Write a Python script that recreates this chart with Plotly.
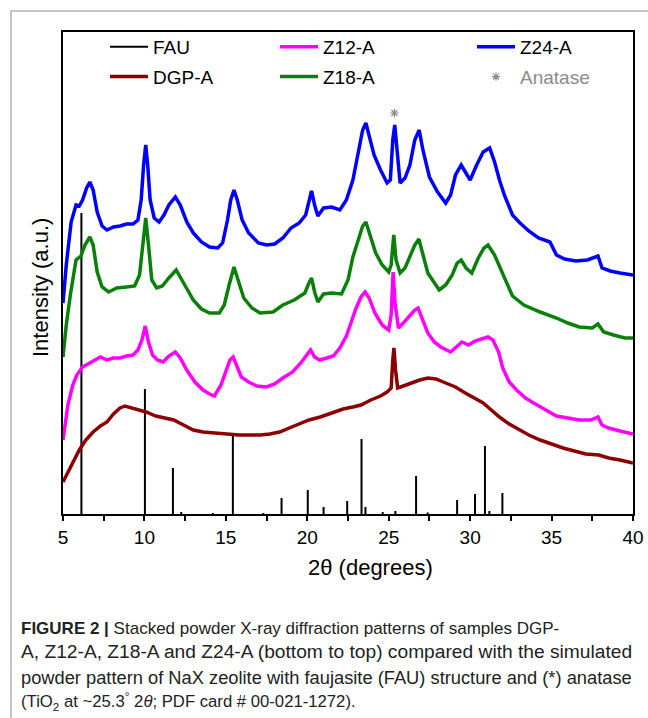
import plotly.graph_objects as go

# ---------------- data ----------------
two_theta_z24 = [5.0, 5.2, 5.5, 5.8, 6.0, 6.2, 6.45, 6.65, 6.85, 7.1, 7.4, 7.7, 8.1, 8.5, 8.9, 9.3, 9.6, 9.8, 9.95, 10.08,
                 10.2, 10.35, 10.6, 10.9, 11.2, 11.5, 11.9, 12.2, 12.6, 13.0, 13.5, 14.0, 14.5, 14.8, 15.1, 15.3, 15.5, 15.7,
                 16.0, 16.4, 17.0, 17.5, 18.0, 18.5, 19.0, 19.5, 19.9, 20.1, 20.26, 20.45, 20.65, 21.0, 21.5, 22.0, 22.4,
                 22.8, 23.1, 23.4, 23.6, 23.8, 24.1, 24.5, 24.9, 25.1, 25.25, 25.37, 25.5, 25.7, 26.0, 26.3, 26.6, 26.87,
                 27.1, 27.5, 28.0, 28.5, 28.8, 29.1, 29.45, 29.7, 30.0, 30.4, 30.8, 31.2, 31.5, 31.8, 32.1, 32.6, 33.0,
                 33.6, 34.2, 34.9, 35.3, 35.8, 36.5, 37.2, 37.85, 38.1, 38.6, 39.2, 40.0]
z24 = [211, 249, 292, 309, 308, 314, 326, 332, 324, 302, 288, 284, 287, 288, 290, 290, 294, 314, 349, 369,
       349, 314, 296, 292, 299, 309, 317, 309, 292, 281, 272, 267, 266, 271, 294, 314, 324, 314,
       294, 281, 271, 269, 270, 276, 286, 291, 299, 314, 323, 309, 298, 306, 307, 304, 314,
       334, 359, 384, 391, 379, 359, 344, 331, 334, 374, 389, 364, 331, 336, 349, 374, 384,
       364, 337, 322, 311, 319, 339, 349, 342, 334, 349, 362, 366, 352, 334, 319, 299, 292,
       283, 276, 272, 259, 255, 253, 254, 258, 246, 243, 241, 239]

two_theta_z18 = [5.0, 5.2, 5.45, 5.8, 6.1, 6.35, 6.65, 6.85, 7.1, 7.4, 7.8, 8.3, 8.9, 9.4, 9.7, 9.9, 10.08, 10.25, 10.45,
                 10.75, 11.1, 11.5, 11.95, 12.3, 12.7, 13.0, 13.5, 14.0, 14.6, 14.9, 15.2, 15.5, 15.75, 16.1, 16.6, 17.1,
                 17.9, 18.5, 19.2, 19.85, 20.1, 20.26, 20.45, 20.65, 21.0, 21.5, 22.1, 22.5, 22.8, 23.1, 23.4, 23.6, 23.8,
                 24.2, 24.6, 25.0, 25.15, 25.31, 25.45, 25.7, 26.0, 26.3, 26.6, 26.85, 27.1, 27.4, 28.1, 28.5, 28.9, 29.2,
                 29.45, 29.75, 30.1, 30.5, 30.85, 31.1, 31.5, 32.0, 32.6, 33.3, 34.3, 35.3, 36.0, 36.7, 37.5, 37.85, 38.2,
                 38.8, 39.5, 40.0]
z18 = [157, 189, 219, 254, 258, 269, 277, 269, 242, 227, 222, 226, 227, 228, 239, 269, 296, 269, 234,
       226, 228, 236, 244, 234, 222, 214, 205, 201, 201, 209, 229, 247, 234, 216, 206, 201,
       202, 209, 214, 221, 231, 236, 222, 212, 220, 221, 220, 234, 257, 274, 288, 292, 282,
       261, 249, 242, 249, 279, 254, 241, 246, 257, 269, 275, 259, 241, 224, 229, 239, 251,
       254, 246, 241, 256, 266, 269, 259, 241, 218, 209, 202, 196, 191, 187, 186, 190, 182,
       179, 176, 176]

two_theta_z12 = [5.0, 5.3, 5.6, 5.85, 6.2, 6.6, 7.0, 7.3, 7.7, 8.1, 8.5, 8.9, 9.3, 9.6, 9.85, 10.05, 10.25, 10.5, 10.8,
                 11.15, 11.5, 11.9, 12.2, 12.6, 13.1, 13.6, 14.0, 14.3, 14.7, 15.0, 15.25, 15.45, 15.7, 15.95, 16.4, 16.9,
                 17.5, 18.0, 18.5, 19.1, 19.6, 19.95, 20.2, 20.45, 20.75, 21.2, 21.6, 22.0, 22.4, 22.7, 23.0, 23.3, 23.55,
                 23.8, 24.15, 24.6, 25.0, 25.15, 25.27, 25.4, 25.6, 25.95, 26.3, 26.6, 26.8, 27.05, 27.4, 27.8, 28.2, 28.8,
                 29.2, 29.5, 29.9, 30.3, 30.7, 31.1, 31.4, 31.75, 32.0, 32.4, 32.85, 33.4, 33.9, 34.6, 35.3, 36.0, 36.7,
                 37.4, 37.85, 38.1, 38.5, 39.2, 40.0]
z12 = [74, 109, 129, 139, 147, 151, 154, 157, 154, 156, 156, 158, 159, 164, 174, 188, 172, 159, 154,
       152, 158, 162, 156, 144, 132, 124, 120, 118, 129, 142, 154, 157, 148, 137, 132, 128,
       127, 130, 136, 142, 151, 158, 164, 157, 154, 156, 158, 166, 178, 192, 206, 217, 222,
       216, 201, 189, 184, 199, 242, 209, 186, 192, 198, 204, 206, 196, 181, 172, 167, 162,
       168, 172, 169, 173, 175, 177, 174, 162, 146, 132, 124, 116, 111, 104, 98, 96, 94,
       94, 97, 89, 86, 83, 80]

two_theta_dgp = [5.0, 5.3, 5.6, 6.0, 6.4, 6.85, 7.3, 7.7, 8.1, 8.5, 8.8, 9.2, 9.6, 10.1, 10.7, 11.2, 11.8, 12.4, 13.0,
                 13.6, 14.2, 15.0, 15.8, 16.5, 17.1, 17.7, 18.3, 18.9, 19.5, 20.1, 20.8, 21.5, 22.2, 22.8, 23.3, 23.9,
                 24.5, 24.9, 25.15, 25.25, 25.32, 25.42, 25.55, 25.9, 26.4, 26.9, 27.4, 27.9, 28.5, 29.1, 29.7, 30.3,
                 30.8, 31.3, 31.8, 32.4, 33.0, 33.6, 34.3, 35.0, 35.7, 36.4, 37.1, 37.9, 38.5, 39.2, 40.0]
dgp = [32, 42, 52, 64, 74, 82, 88, 92, 100, 106, 108, 106, 104, 102, 98, 96, 94, 89, 84,
       82, 81, 80, 79, 79, 79, 80, 82, 86, 90, 94, 97, 101, 105, 107, 109, 114,
       118, 122, 126, 154, 166, 144, 126, 128, 131, 134, 136, 135, 131, 127, 121, 116,
       111, 104, 97, 90, 84, 79, 74, 70, 66, 63, 60, 59, 56, 54, 51]

# simulated FAU stick pattern
fau_pos = [6.13, 10.03, 11.75, 12.26, 14.2, 15.43, 17.3, 18.42, 20.03, 21.0, 22.45, 23.33, 23.57, 24.63, 25.41,
           26.68, 27.39, 29.2, 30.3, 30.91, 31.18, 31.98]
fau_int = [301, 125, 46, 2, 1, 78, 1, 16, 24, 7, 13, 75, 7, 2, 3, 38, 1.5, 14, 20, 68, 3, 21]

# anatase marker
anatase_pos = [25.35]
anatase_lvl = [401]

x_ticks = [5, 10, 15, 20, 25, 30, 35, 40]

# ---------------- figure ----------------
W, H = 648, 718
ML, MR, MT, MB = 63, 15, 32, 204
PW, PH = W - ML - MR, H - MT - MB


def px(x):
    return (x - ML) / PW


def py(y):
    return (H - MB - y) / PH


FONT = "Liberation Sans, Arial, sans-serif"

fig = go.Figure()

stick_x, stick_y = [], []
for p, h in zip(fau_pos, fau_int):
    stick_x += [p, p, None]
    stick_y += [0, h, None]

LW = 3.5
fig.add_trace(go.Scatter(x=stick_x, y=stick_y, mode="lines", name="FAU",
                         line=dict(color="black", width=2), legend="legend", legendgroup="a",
                         legendrank=1))
fig.add_trace(go.Scatter(x=two_theta_dgp, y=dgp, mode="lines", name="DGP-A",
                         line=dict(color="#8b0000", width=LW), legend="legend", legendgroup="b",
                         legendrank=2))
fig.add_trace(go.Scatter(x=two_theta_z12, y=z12, mode="lines", name="Z12-A",
                         line=dict(color="#ff00ff", width=LW), legend="legend2", legendgroup="c",
                         legendrank=1))
fig.add_trace(go.Scatter(x=two_theta_z18, y=z18, mode="lines", name="Z18-A",
                         line=dict(color="#0a800a", width=LW), legend="legend2", legendgroup="d",
                         legendrank=2))
fig.add_trace(go.Scatter(x=two_theta_z24, y=z24, mode="lines", name="Z24-A",
                         line=dict(color="#0000ff", width=LW), legend="legend3", legendgroup="e",
                         legendrank=1))
fig.add_trace(go.Scatter(x=anatase_pos, y=anatase_lvl, mode="markers",
                         name="<span style='color:#8c8c8c'>Anatase</span>",
                         marker=dict(symbol="asterisk-open", size=7, color="#8c8c8c",
                                     line=dict(color="#8c8c8c", width=1.2)),
                         legend="legend3", legendgroup="f", legendrank=2))

leg_common = dict(font=dict(family=FONT, size=19, color="black"), bgcolor="rgba(0,0,0,0)",
                  borderwidth=0, tracegroupgap=2, yanchor="top", xanchor="left",
                  orientation="v", itemwidth=38)

fig.update_layout(
    width=W, height=H,
    margin=dict(l=ML, r=MR, t=MT, b=MB, pad=0, autoexpand=False),
    paper_bgcolor="white", plot_bgcolor="white",
    font=dict(family=FONT, size=18, color="black"),
    legend=dict(x=px(105), y=py(28), **leg_common),
    legend2=dict(x=px(275), y=py(28), **leg_common),
    legend3=dict(x=px(472), y=py(28), **leg_common),
    xaxis=dict(range=[5, 40], tickvals=x_ticks, ticks="outside", ticklen=5, tickwidth=1.5,
               tickcolor="black", showline=True, linecolor="black", linewidth=1.5, mirror=True,
               showgrid=False, zeroline=False, tickfont=dict(size=19, family=FONT),
               minor=dict(dtick=2.5, ticks="outside", ticklen=5, tickwidth=1.5, tickcolor="black",
                          showgrid=False)),
    yaxis=dict(range=[0, PH], showticklabels=False, ticks="", showline=True, linecolor="black",
               linewidth=1.5, mirror=True, showgrid=False, zeroline=False),
    showlegend=True,
)

# axis titles
fig.add_annotation(text="2θ (degrees)", x=px(370), y=py(567), xref="paper", yref="paper",
                   showarrow=False, font=dict(size=22, family=FONT), xanchor="center", yanchor="middle")
fig.add_annotation(text="Intensity (a.u.)", x=px(40), y=py(288), xref="paper", yref="paper",
                   showarrow=False, font=dict(size=22, family=FONT), textangle=-90,
                   xanchor="center", yanchor="middle")

# outer frame lines (page border)
fig.add_shape(type="line", xref="paper", yref="paper", x0=px(11), y0=py(11), x1=px(648), y1=py(11),
              line=dict(color="#b0b0b0", width=1.5))
fig.add_shape(type="line", xref="paper", yref="paper", x0=px(11), y0=py(11), x1=px(11), y1=py(718),
              line=dict(color="#b0b0b0", width=1.5))

# caption
caption = [
    "<b>FIGURE 2 |</b> Stacked powder X-ray diffraction patterns of samples DGP-",
    "A, Z12-A, Z18-A and Z24-A (bottom to top) compared with the simulated",
    "powder pattern of NaX zeolite with faujasite (FAU) structure and (*) anatase",
    "(TiO<sub>2</sub> at ~25.3<sup>°</sup> 2<i>θ</i>; PDF card # 00-021-1272).",
]
cap_y = [628, 652, 677, 701]
cap_size = [17, 19.2, 18.3, 16.7]
for line, yy, sz in zip(caption, cap_y, cap_size):
    fig.add_annotation(text=line, x=px(19), y=py(yy), xref="paper", yref="paper", showarrow=False,
                       xanchor="left", yanchor="middle", font=dict(size=sz, family=FONT, color="#222"))

fig.write_html("out.html", config={"displayModeBar": False},
               post_script="document.body.style.margin='0';")
